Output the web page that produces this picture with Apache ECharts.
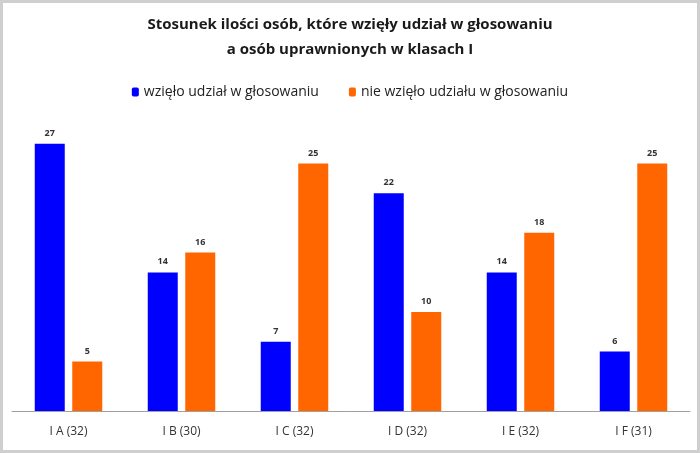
<!DOCTYPE html>
<html><head><meta charset="utf-8">
<script src="https://cdn.jsdelivr.net/npm/echarts@6/dist/echarts.min.js"></script>
<style>
html,body{margin:0;padding:0;background:#fff;}
#c{position:absolute;left:0;top:0;width:694px;height:447px;border:3px solid #cfcfcf;}
</style></head>
<body><div id="c"></div>
<script>
const categories = ['I A (32)', 'I B (30)', 'I C (32)', 'I D (32)', 'I E (32)', 'I F (31)'];
const voted = [27, 14, 7, 22, 14, 6];
const notVoted = [5, 16, 25, 10, 18, 25];
const seriesNames = ['wzięło udział w głosowaniu', 'nie wzięło udziału w głosowaniu'];

const chart = echarts.init(document.getElementById('c'));
chart.setOption({
  animation: false,
  title: {
    text: 'Stosunek ilości osób, które wzięły udział w głosowaniu\na osób uprawnionych w klasach I',
    left: 'center', top: 4,
    textStyle: {fontFamily: 'Open Sans', fontSize: 15, fontWeight: 'bold', color: '#1a1a1a', lineHeight: 25}
  },
  legend: {
    top: 77, left: 'center',
    itemWidth: 7, itemHeight: 9, itemGap: 30,
    textStyle: {fontFamily: 'Open Sans', fontSize: 14, color: '#222'},
    data: seriesNames
  },
  grid: {left: 9, right: 7, top: 111, bottom: 39, containLabel: false},
  xAxis: {
    type: 'category', data: categories,
    axisLine: {lineStyle: {color: '#a0a0a0'}},
    axisTick: {show: false},
    axisLabel: {fontFamily: 'Open Sans', fontSize: 12, color: '#333', margin: 15}
  },
  yAxis: {type: 'value', min: 0, max: 30, show: false, splitLine: {show: false}},
  series: [
    {name: seriesNames[0], type: 'bar', data: voted, barWidth: 30, barGap: '25%',
     itemStyle: {color: '#0000ff'},
     label: {show: true, position: 'top', fontFamily: 'Open Sans', fontSize: 9, fontWeight: 'bold', color: '#333', distance: 6}},
    {name: seriesNames[1], type: 'bar', data: notVoted, barWidth: 30,
     itemStyle: {color: '#ff6600'},
     label: {show: true, position: 'top', fontFamily: 'Open Sans', fontSize: 9, fontWeight: 'bold', color: '#333', distance: 6}}
  ]
});
</script></body></html>
